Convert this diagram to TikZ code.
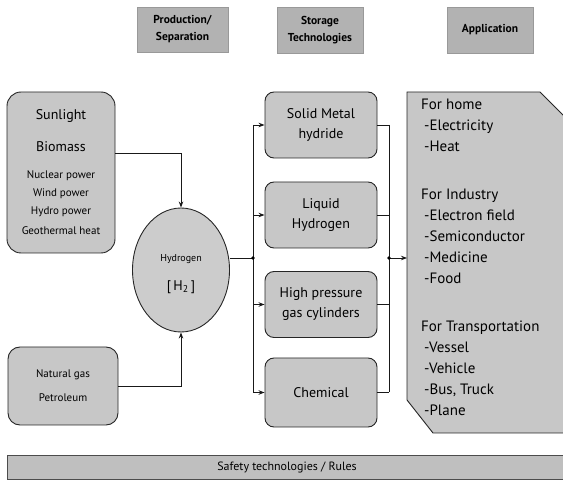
\documentclass[tikz,border=0pt]{standalone}
\usepackage{fontspec}
\setmainfont{PT Sans}
\usetikzlibrary{shapes.geometric,arrows.meta}
\begin{document}
\begin{tikzpicture}[x=1pt,y=-1pt,
  box/.style={draw=black!85, line width=0.9pt, fill=black!22, rounded corners=9pt, inner sep=0pt, align=center},
  hdr/.style={draw=black!40, line width=0.4pt, fill=black!30, inner sep=0pt, align=center,
    font=\fontsize{11.5}{17}\selectfont\bfseries},
  conn/.style={line width=0.9pt, draw=black!90},
  arr/.style={conn, -{Stealth[length=6pt,width=4.5pt]}},
  jdot/.style={circle, fill=black, inner sep=0pt, minimum size=3.6pt},
]
\useasboundingbox (0,0) rectangle (563,481);

% headers
\node[hdr, minimum width=91pt, minimum height=45pt] (hp) at (182.5,29.5) {Production/\\Separation};
\node[hdr, minimum width=86pt, minimum height=46pt] (hs) at (320,30) {Storage\\Technologies};
\node[hdr, minimum width=86pt, minimum height=46pt] (ha) at (490,30) {Application};

% sources
\node[box, rounded corners=14pt, minimum width=108pt, minimum height=161pt,
  font=\fontsize{11}{18}\selectfont] (src1) at (61,172.5)
  {{\fontsize{14}{16}\selectfont Sunlight}\\[14pt]
   {\fontsize{14}{16}\selectfont Biomass}\\[9pt]
   Nuclear power\\
   Wind power\\
   Hydro power\\[2pt]
   Geothermal heat};
\node[box, rounded corners=12pt, minimum width=110pt, minimum height=78pt,
  font=\fontsize{11}{24}\selectfont] (src2) at (63,386) {Natural gas\\Petroleum};

% hydrogen
\node[ellipse, draw=black!85, line width=0.9pt, fill=black!20, inner sep=0pt,
  minimum width=97pt, minimum height=124pt] (h2) at (181,270) {};
\node[align=center, inner sep=0pt, font=\fontsize{10}{12}\selectfont] (h2t) at (181,274)
  {Hydrogen\\[17pt]{\fontsize{14}{14}\selectfont [\,H\textsubscript{2}\,]}};

% storage
\begin{scope}[every node/.style={box, minimum width=112pt, minimum height=66pt,
  font=\fontsize{14}{20}\selectfont}]
\node (st1) at (321,125) {Solid Metal\\hydride};
\node (st2) at (321,215) {Liquid\\Hydrogen};
\node (st3) at (321,304.5) {High pressure\\gas cylinders};
\node[minimum height=69pt] (st4) at (321,392.5) {Chemical};
\end{scope}

% application
\draw[draw=black!85, line width=0.9pt, fill=black!22]
  (407,92) -- (540,92) -- (564,116) -- (564,433) -- (433,433) -- (407,400) -- cycle;
\node[anchor=north west, align=left, inner sep=0pt, font=\fontsize{15}{21}\selectfont] (apptext) at (421,99)
  {For home\\
   \hspace*{3pt}-Electricity\\
   \hspace*{3pt}-Heat\\[27pt]
   For Industry\\
   \hspace*{3pt}-Electron field\\
   \hspace*{3pt}-Semiconductor\\
   \hspace*{3pt}-Medicine\\
   \hspace*{3pt}-Food\\[27pt]
   For Transportation\\
   \hspace*{3pt}-Vessel\\
   \hspace*{3pt}-Vehicle\\
   \hspace*{3pt}-Bus, Truck\\
   \hspace*{3pt}-Plane};

% safety bar
\node[draw=black!70, line width=0.6pt, fill=black!25, minimum width=560pt, minimum height=24pt,
  inner sep=0pt, font=\fontsize{12}{14}\selectfont] (safe) at (287,467) {Safety technologies / Rules};

% connectors
\coordinate (jl) at (253,258);
\coordinate (jr) at (389,258);
\coordinate (appin) at (407,258);
\draw[arr] ([yshift=19.5pt]src1.east) -| (h2.north);
\draw[arr] (src2.east) -| (h2.south);
\draw[conn] (h2.east |- jl) -- (jl);
\draw[conn] (st1.west -| jl) -- (st4.west -| jl);
\foreach \n in {st1,st2,st3,st4} {
  \draw[arr] (\n.west -| jl) -- (\n.west);
  \draw[conn] (\n.east) -- (\n.east -| jr);
}
\draw[conn] (st1.east -| jr) -- (st4.east -| jr);
\draw[arr] (jr) -- (appin);
\node[jdot] (dl) at (jl) {};
\node[jdot] (dr) at (jr) {};
\end{tikzpicture}
\end{document}
